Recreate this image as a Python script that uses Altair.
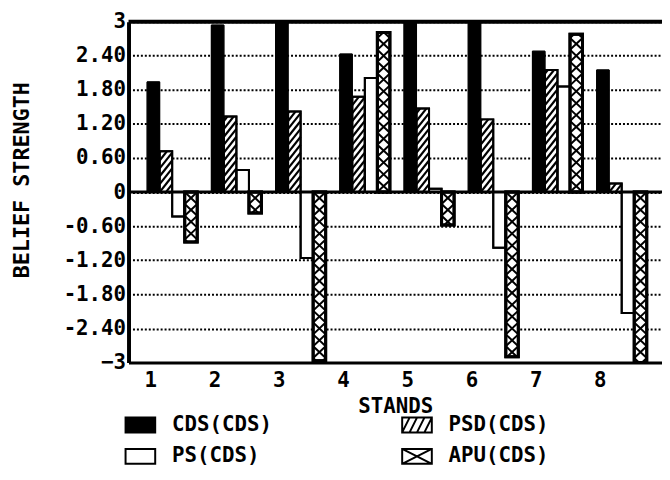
import math
import altair as alt
import pandas as pd

# ---------------- data ----------------
stands = [1, 2, 3, 4, 5, 6, 7, 8]
series = ["CDS(CDS)", "PSD(CDS)", "PS(CDS)", "APU(CDS)"]
legend_order = ["CDS(CDS)", "PS(CDS)", "PSD(CDS)", "APU(CDS)"]
cds = [1.94, 2.94, 3.0, 2.43, 3.0, 3.0, 2.48, 2.15]
psd = [0.72, 1.33, 1.42, 1.68, 1.47, 1.28, 2.15, 0.15]
ps = [-0.43, 0.39, -1.16, 2.01, 0.06, -0.98, 1.86, -2.13]
apu = [-0.88, -0.37, -2.97, 2.81, -0.58, -2.90, 2.78, -3.0]
y_ticks = [3, 2.4, 1.8, 1.2, 0.6, 0, -0.6, -1.2, -1.8, -2.4, -3]

# ---------------- style ----------------
FONT = "DejaVu Sans Mono"
PAD_L, PAD_T, PAD_B = 122, 11, 108
W, H = 540, 345
PX_X = 65.0
X_LO = 0.66
X_DOM = [X_LO, X_LO + W / PX_X]
Y_DOM = [-3, 3]
BAR_W = 0.195
GROUP_OFF = -0.05
fills = {"CDS(CDS)": "black", "PSD(CDS)": "white", "PS(CDS)": "white", "APU(CDS)": "white"}
stroke_w = {"CDS(CDS)": 1, "PSD(CDS)": 2, "PS(CDS)": 2, "APU(CDS)": 3}
hatch_kind = {"CDS(CDS)": None, "PSD(CDS)": "psd", "PS(CDS)": None, "APU(CDS)": "apu"}
RECT = "M-1,-0.5H1V0.5H-1Z"
legend_paths = {
    "CDS(CDS)": RECT,
    "PSD(CDS)": RECT + " M-1,0.5L-0.5,-0.5 M-0.5,0.5L0,-0.5 M0,0.5L0.5,-0.5 M0.5,0.5L1,-0.5",
    "PS(CDS)": RECT,
    "APU(CDS)": RECT + " M-1,-0.5L1,0.5 M-1,0.5L1,-0.5",
}

px_y = H / (Y_DOM[1] - Y_DOM[0])

values = [cds, psd, ps, apu]
rows = []
for si, name in enumerate(series):
    for k, s in enumerate(stands):
        x0 = s + GROUP_OFF + si * BAR_W
        rows.append(dict(stand=s, series=name, value=values[si][k], zero=0.0,
                         x0=x0, x1=x0 + BAR_W, fillc=fills[name], sw=stroke_w[name]))
bars = pd.DataFrame(rows)


def hatch_segments(x0, x1, lo, hi, rise, step, rising):
    segs = []
    n0 = math.floor((lo - rise) / step)
    n1 = math.ceil(hi / step)
    for n in range(n0, n1 + 1):
        y0 = n * step
        ta = max(0.0, (lo - y0) / rise)
        tb = min(1.0, (hi - y0) / rise)
        if tb > ta:
            w = x1 - x0
            if rising:
                xa, xb = x0 + w * ta, x0 + w * tb
            else:
                xa, xb = x1 - w * ta, x1 - w * tb
            segs.append((xa, y0 + rise * ta, xb, y0 + rise * tb))
    return segs


hrows = []
for r in rows:
    kind = hatch_kind[r["series"]]
    if kind is None:
        continue
    lo, hi = min(0.0, r["value"]), max(0.0, r["value"])
    if kind == "psd":
        specs = [(16 / px_y, 8 / px_y, True, 2.2)]
    else:
        specs = [(12 / px_y, 12 / px_y, True, 2.0), (12 / px_y, 12 / px_y, False, 2.0)]
    for rise, step, rising, lw in specs:
        for (xa, ya, xb, yb) in hatch_segments(r["x0"], r["x1"], lo, hi, rise, step, rising):
            hrows.append(dict(hx0=xa, hy0=ya, hx1=xb, hy1=yb, hw=lw))
hatch = pd.DataFrame(hrows)

lines = pd.DataFrame({"y": [Y_DOM[1], 0], "lw": [4, 3]})

# ---------------- encodings ----------------
xscale = alt.Scale(domain=X_DOM, nice=False, zero=False)
yscale = alt.Scale(domain=Y_DOM, nice=False, zero=False)

xaxis = alt.Axis(values=stands, format="d", grid=False, ticks=False,
                 domainWidth=3, domainColor="black", labelPadding=7,
                 labelFont=FONT, labelFontSize=21, labelFontWeight="bold",
                 labelColor="black", labelFlush=False,
                 titleFont=FONT, titleFontSize=21, titleFontWeight="bold",
                 titleColor="black", titlePadding=6, titleX=270)
yaxis = alt.Axis(values=y_ticks, grid=True, gridDash=[2, 2], gridWidth=2,
                 gridColor="black", gridOpacity=1, ticks=False,
                 domainWidth=4, domainColor="black", labelPadding=3,
                 labelExpr="datum.value == 0 ? '0' : (abs(datum.value) == 3 ? format(datum.value, 'd') : (datum.value < 0 ? '-' : '') + format(abs(datum.value), '.2f'))",
                 labelFont=FONT, labelFontSize=21, labelFontWeight="bold",
                 labelColor="black", labelFlush=False,
                 titleFont=FONT, titleFontSize=22, titleFontWeight="bold",
                 titleColor="black", titleAngle=270, titleAlign="center",
                 titleBaseline="middle", titleX=-108, titleY=160)

bar_layer = alt.Chart(bars).mark_bar(stroke="black", strokeJoin="miter").encode(
    x=alt.X("x0:Q", scale=xscale, axis=xaxis, title="STANDS"),
    x2="x1:Q",
    y=alt.Y("value:Q", scale=yscale, axis=yaxis, title="BELIEF STRENGTH"),
    y2="zero:Q",
    fill=alt.Fill("fillc:N", scale=None),
    strokeWidth=alt.StrokeWidth("sw:Q", scale=None),
)

hatch_layer = alt.Chart(hatch).mark_rule(color="black", strokeCap="butt").encode(
    x=alt.X("hx0:Q", scale=xscale, axis=xaxis, title="STANDS"),
    x2="hx1:Q",
    y=alt.Y("hy0:Q", scale=yscale, axis=yaxis, title="BELIEF STRENGTH"),
    y2="hy1:Q",
    strokeWidth=alt.StrokeWidth("hw:Q", scale=None),
)

outline_layer = alt.Chart(bars).mark_bar(fill=None, stroke="black", fillOpacity=0).encode(
    x=alt.X("x0:Q", scale=xscale, axis=xaxis, title="STANDS"),
    x2="x1:Q",
    y=alt.Y("value:Q", scale=yscale, axis=yaxis, title="BELIEF STRENGTH"),
    y2="zero:Q",
    strokeWidth=alt.StrokeWidth("sw:Q", scale=None),
)

line_layer = alt.Chart(lines).mark_rule(color="black").encode(
    y=alt.Y("y:Q", scale=yscale, axis=yaxis, title="BELIEF STRENGTH"),
    strokeWidth=alt.StrokeWidth("lw:Q", scale=None),
)

legend = alt.Legend(orient="none", legendX=-4, legendY=392, columns=2,
                    columnPadding=127, rowPadding=4, title=None,
                    labelFont=FONT, labelFontSize=21, labelFontWeight="bold",
                    labelColor="black", labelOffset=16, symbolSize=900,
                    symbolStrokeColor="black", symbolStrokeWidth=2,
                    symbolOpacity=1, labelLimit=0)

legend_layer = alt.Chart(pd.DataFrame({"series": legend_order})).transform_filter(
    "false"
).mark_point(filled=True, size=900, stroke="black", strokeWidth=2, opacity=1).encode(
    fill=alt.Fill("series:N", scale=alt.Scale(domain=legend_order,
                                              range=[fills[s] for s in legend_order]),
                  legend=legend),
    shape=alt.Shape("series:N", scale=alt.Scale(domain=legend_order,
                                                range=[legend_paths[s] for s in legend_order]),
                    legend=legend),
)

chart = alt.layer(bar_layer, hatch_layer, outline_layer, line_layer, legend_layer).properties(
    width=W, height=H,
    autosize=alt.AutoSizeParams(type="none"),
    padding={"left": PAD_L, "top": PAD_T, "right": 0, "bottom": PAD_B},
    background="white",
).configure_view(stroke=None).configure(font=FONT)

chart.save("out.html", embed_options={"renderer": "svg", "actions": False})
